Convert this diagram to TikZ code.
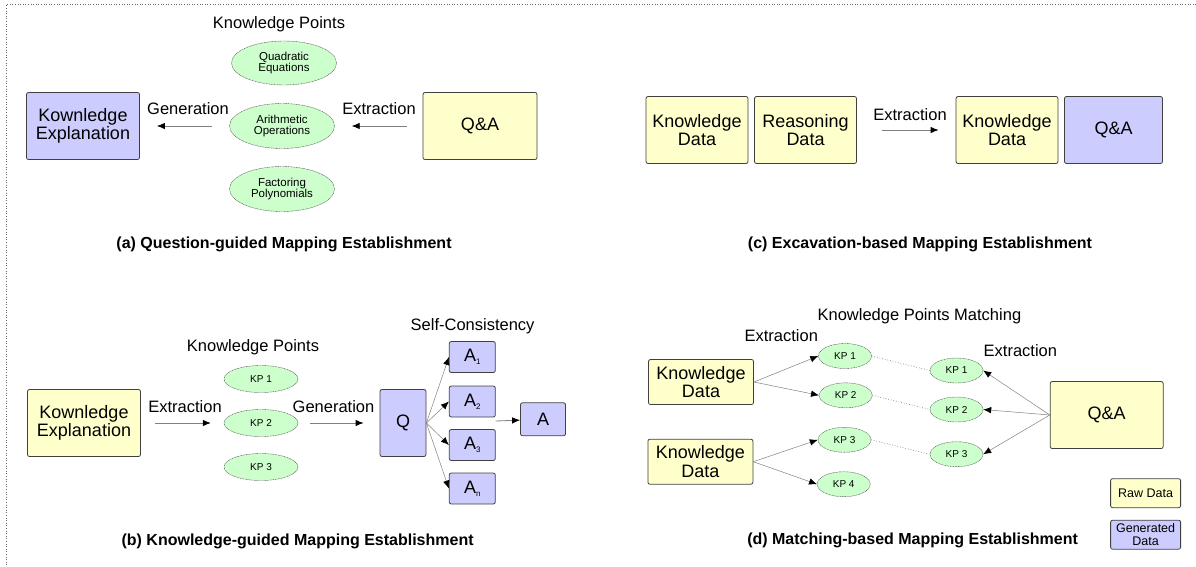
\documentclass[tikz,border=0pt]{standalone}
\usepackage{fontspec}
\setmainfont{Liberation Sans}
\usetikzlibrary{shapes.geometric,arrows.meta}
\definecolor{rawfill}{HTML}{FFFFCC}
\definecolor{genfill}{HTML}{CCCCFF}
\definecolor{kpfill}{HTML}{CCFFCC}
\definecolor{edgegray}{HTML}{808080}
\newcommand{\ansub}[1]{A\raisebox{-3pt}{\fontsize{8}{8}\selectfont #1}}

\begin{document}
\begin{tikzpicture}[x=1pt,y=-1pt,
	box/.style={draw=black!75,line width=0.8pt,rounded corners=2pt,align=center,inner sep=0pt,font=\fontsize{18}{18.5}\selectfont},
	rawbox/.style={box,fill=rawfill},
	genbox/.style={box,fill=genfill},
	kp/.style={ellipse,draw=black!70,dash pattern=on 1pt off 0.6pt,fill=kpfill,inner sep=0pt,align=center,font=\fontsize{11.5}{11.5}\selectfont},
	kpsmall/.style={kp,minimum width=53pt,minimum height=25pt,font=\fontsize{10}{10}\selectfont},
	keybox/.style={minimum width=70pt,minimum height=29pt,font=\fontsize{12.5}{13}\selectfont},
	lbl/.style={font=\fontsize{16.5}{18}\selectfont},
	captext/.style={font=\fontsize{16}{18}\selectfont\bfseries},
	flow/.style={draw=edgegray,line width=0.8pt,-{Latex[color=black,length=8pt,width=6.5pt]}},
	match/.style={draw=edgegray,dotted,line width=0.7pt}]
			\useasboundingbox (0,0) rectangle (1196,566);
			\draw[dotted,black!60,line width=0.6pt] (1196,4) -- (6.5,4) -- (6.5,566);

			\node[genbox,minimum width=113pt,minimum height=67pt] (keA) at (83,126) {Kownledge\\Explanation};
			\node[rawbox,minimum width=114pt,minimum height=67pt] (qaA) at (480,126) {Q\&A};
			\node[kp,minimum width=105pt,minimum height=44pt] (kpQuad) at (284,63) {Quadratic\\Equations};
			\node[kp,minimum width=105pt,minimum height=45pt] (kpArith) at (282,126) {Arithmetic\\Operations};
			\node[kp,minimum width=105pt,minimum height=45pt] (kpFact) at (282,189) {Factoring\\Polynomials};
			\node[lbl] (kpA) at (279,24) {Knowledge Points};
			\node[lbl] (genA) at (188,109) {Generation};
			\node[lbl] (extA) at (379,109) {Extraction};
			\draw[flow,shorten <=17pt,shorten >=17pt] (kpArith) -- (keA);
			\draw[flow,shorten <=16pt,shorten >=17pt] (qaA) -- (kpArith);
			\node[captext] (capA) at (284,244) {(a) Question-guided Mapping Establishment};

			\node[rawbox,minimum width=102pt,minimum height=67pt] (kdC) at (697,130) {Knowledge\\Data};
			\node[rawbox,minimum width=102pt,minimum height=67pt] (rdC) at (805.5,130) {Reasoning\\Data};
			\node[rawbox,minimum width=102pt,minimum height=67pt] (kdC2) at (1007,130) {Knowledge\\Data};
			\node[genbox,minimum width=98pt,minimum height=67pt] (qaC) at (1113.5,130) {Q\&A};
			\node[lbl] (extC) at (910,115) {Extraction};
			\draw[flow,shorten <=25pt,shorten >=17pt] (rdC) -- (kdC2);
			\node[captext] (capC) at (920,244) {(c) Excavation-based Mapping Establishment};

			\node[rawbox,minimum width=113pt,minimum height=67pt] (keB) at (84,423) {Kownledge\\Explanation};
			\node[lbl] (extB) at (185,407) {Extraction};
			\node[lbl] (kpB) at (253,347) {Knowledge Points};
			\node[kp,minimum width=74pt,minimum height=27pt,font=\fontsize{10}{10}\selectfont] (kp1B) at (261,379) {KP 1};
			\node[kp,minimum width=74pt,minimum height=27pt,font=\fontsize{10}{10}\selectfont] (kp2B) at (261,423) {KP 2};
			\node[kp,minimum width=74pt,minimum height=27pt,font=\fontsize{10}{10}\selectfont] (kp3B) at (261,467) {KP 3};
			\node[lbl] (genB) at (333.5,407) {Generation};
			\node[genbox,minimum width=46pt,minimum height=67pt] (qB) at (403,423) {Q};
			\node[lbl] (scB) at (472.6,326) {Self-Consistency};
			\foreach \i/\y in {1/357,2/401.5,3/445,n/488.5}
				\node[genbox,minimum width=46pt,minimum height=31pt] (a\i B) at (472.3,\y) {\ansub{\i}};
			\node[genbox,minimum width=45pt,minimum height=33pt] (aB) at (543,419.3) {A};
			\coordinate (vote) at (495.6,421);
			\draw[flow,shorten <=14pt,shorten >=13pt] (keB) -- (kp2B);
			\draw[flow,shorten <=12pt,shorten >=16pt] (kp2B) -- (qB);
			\foreach \i in {1,2,3,n}
				\draw[flow,line width=0.5pt] (qB.east) -- (a\i B.west);
			\draw[flow] (vote) -- (aB);
			\node[captext] (capB) at (297.6,541.7) {(b) Knowledge-guided Mapping Establishment};

			\node[rawbox,minimum width=105pt,minimum height=45pt] (kd1D) at (701,382) {Knowledge\\Data};
			\node[rawbox,minimum width=105pt,minimum height=45pt] (kd2D) at (700.4,461.7) {Knowledge\\Data};
			\node[lbl] (kpmD) at (919.4,316.7) {Knowledge Points Matching};
			\node[lbl] (extD1) at (781.3,335.7) {Extraction};
			\node[lbl] (extD2) at (1020.4,350.7) {Extraction};
			\node[kpsmall] (kpL1) at (845,356) {KP 1};
			\node[kpsmall] (kpL2) at (845.7,395.3) {KP 2};
			\node[kpsmall] (kpL3) at (844.5,439.8) {KP 3};
			\node[kpsmall] (kpL4) at (843.7,484.2) {KP 4};
			\node[kpsmall] (kpR1) at (956.5,370.5) {KP 1};
			\node[kpsmall] (kpR2) at (956.5,409.5) {KP 2};
			\node[kpsmall] (kpR3) at (956.5,454.2) {KP 3};
			\node[rawbox,minimum width=113pt,minimum height=67pt] (qaD) at (1106.7,415) {Q\&A};
			\draw[flow,line width=0.5pt] (kd1D.east) -- (kpL1.west);
			\draw[flow,line width=0.5pt] (kd1D.east) -- (kpL2.west);
			\draw[flow,line width=0.5pt] (kd2D.east) -- (kpL3.west);
			\draw[flow,line width=0.5pt] (kd2D.east) -- (kpL4.west);
			\foreach \k in {1,2,3}
				\draw[match] (kpL\k.east) -- (kpR\k.west);
			\foreach \k in {1,2,3}
				\draw[flow,line width=0.5pt] (qaD.west) -- (kpR\k.east);
			\node[rawbox,keybox] (rawKey) at (1145.6,493.2) {Raw Data};
			\node[genbox,keybox] (genKey) at (1145.6,534.7) {Generated\\Data};
			\node[captext] (capD) at (912.6,540.7) {(d) Matching-based Mapping Establishment};
\end{tikzpicture}
\end{document}
